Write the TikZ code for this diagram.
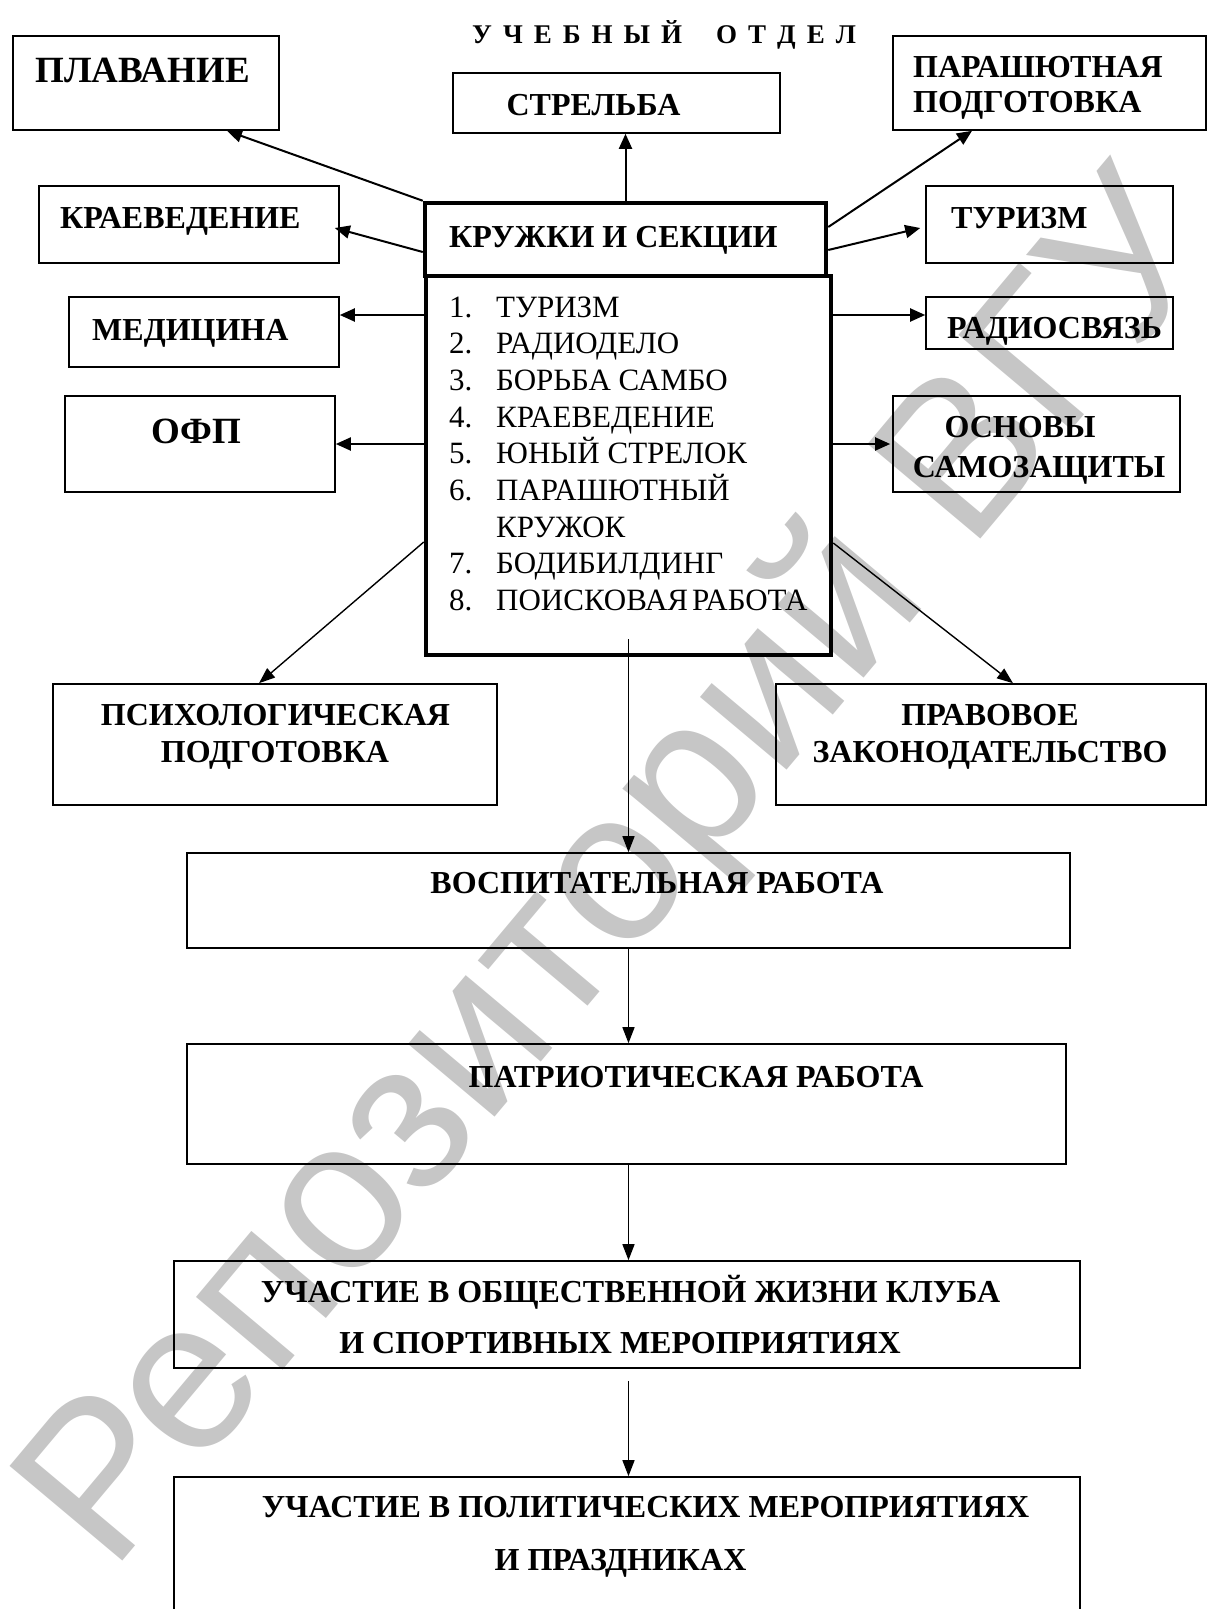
\documentclass[tikz,border=0pt]{standalone}
\usepackage{fontspec}
\setmainfont{Liberation Serif}
\newfontfamily\wmfont{Liberation Sans}
\usetikzlibrary{arrows.meta,fit}
\definecolor{wmgray}{RGB}{198,198,198}
\newcommand{\lsp}{\hspace{11pt}}
\begin{document}
\begin{tikzpicture}[x=1pt,y=-1pt,
  box/.style={draw, line width=1.6pt, inner sep=0pt},
  kbox/.style={draw, line width=4.5pt, inner sep=0pt},
  lbl/.style={inner sep=0pt, font=\fontsize{32}{38}\selectfont\bfseries},
  biglbl/.style={inner sep=0pt, font=\fontsize{37}{44}\selectfont\bfseries},
  item/.style={inner sep=0pt, anchor=base west, font=\fontsize{31}{37}\selectfont},
  arr/.style={line width=2pt, -{Triangle[length=15pt,width=13pt]}},
  arrthin/.style={line width=1.4pt, -{Triangle[length=16pt,width=12pt]}},
  wm/.style={inner sep=0pt, text=wmgray, font=\fontsize{214}{250}\selectfont\wmfont}
]
\useasboundingbox (0,0) rectangle (1208,1609);
\clip (0,0) rectangle (1208,1609);

% watermark
\node[wm, rotate=50, anchor=base west] (wmark) at (111,1575) {Репозиторий ВГУ};

% title
\node[inner sep=0pt, anchor=base west, font=\fontsize{27}{32}\selectfont\bfseries] (title) at (472,43)
  {У\lsp Ч\lsp Е\lsp Б\lsp Н\lsp Ы\lsp Й\hspace{34pt}О\lsp Т\lsp Д\lsp Е\lsp Л};

% boxes
\node[box, fit={(13,36) (279,130)}] (plav) {};
\node[box, fit={(453,73) (780,133)}] (str) {};
\node[box, fit={(893,36) (1206,130)}] (para) {};
\node[box, fit={(39,186) (339,263)}] (krai) {};
\node[box, fit={(69,297) (339,367)}] (med) {};
\node[box, fit={(65,396) (335,492)}] (ofp) {};
\node[box, fit={(926,186) (1173,263)}] (tur) {};
\node[box, fit={(926,297) (1173,349)}] (rad) {};
\node[box, fit={(893,396) (1180,492)}] (osn) {};
\node[box, fit={(53,684) (497,805)}] (psy) {};
\node[box, fit={(776,684) (1206,805)}] (prav) {};
\node[box, fit={(187,853) (1070,948)}] (vos) {};
\node[box, fit={(187,1044) (1066,1164)}] (pat) {};
\node[box, fit={(174,1261) (1080,1368)}] (uch1) {};
\node[box, fit={(174,1477) (1080,1640)}] (uch2) {};
\node[kbox, fit={(426,276) (831,655)}] (krl) {};
\node[kbox, fill=white, fit={(425,203) (826,276)}] (kr) {};

% labels
\node[biglbl, anchor=base] (plavT) at (142.5,82) {ПЛАВАНИЕ};
\node[lbl, anchor=base] (strT) at (593.5,115) {СТРЕЛЬБА};
\node[lbl, anchor=base west] (paraT1) at (913,77) {ПАРАШЮТНАЯ};
\node[lbl, anchor=base west] (paraT2) at (913,112) {ПОДГОТОВКА};
\node[lbl, anchor=base west] (krT) at (449,247) {КРУЖКИ И СЕКЦИИ};
\node[lbl, anchor=base west] (kraiT) at (60,228) {КРАЕВЕДЕНИЕ};
\node[lbl, anchor=base west] (medT) at (92,340) {МЕДИЦИНА};
\node[biglbl, anchor=base] (ofpT) at (196.5,443) {ОФП};
\node[lbl, anchor=base west] (turT) at (951,228) {ТУРИЗМ};
\node[lbl, anchor=base west] (radT) at (947,338) {РАДИОСВЯЗЬ};
\node[lbl, anchor=base] (osnT1) at (1020,437) {ОСНОВЫ};
\node[lbl, anchor=base] (osnT2) at (1039,477) {САМОЗАЩИТЫ};
\node[lbl, anchor=base] (psyT1) at (275.5,725) {ПСИХОЛОГИЧЕСКАЯ};
\node[lbl, anchor=base] (psyT2) at (275,762) {ПОДГОТОВКА};
\node[lbl, anchor=base] (pravT1) at (990,725) {ПРАВОВОЕ};
\node[lbl, anchor=base] (pravT2) at (990,762) {ЗАКОНОДАТЕЛЬСТВО};
\node[lbl, anchor=base] (vosT) at (657,893) {ВОСПИТАТЕЛЬНАЯ РАБОТА};
\node[lbl, anchor=base] (patT) at (696,1087) {ПАТРИОТИЧЕСКАЯ РАБОТА};
\node[lbl, anchor=base] (uch1T1) at (630.5,1302) {УЧАСТИЕ В ОБЩЕСТВЕННОЙ ЖИЗНИ КЛУБА};
\node[lbl, anchor=base] (uch1T2) at (620,1353) {И СПОРТИВНЫХ МЕРОПРИЯТИЯХ};
\node[lbl, anchor=base] (uch2T1) at (645.5,1517) {УЧАСТИЕ В ПОЛИТИЧЕСКИХ МЕРОПРИЯТИЯХ};
\node[lbl, anchor=base] (uch2T2) at (620.5,1570) {И ПРАЗДНИКАХ};

% list
\node[item] (n1) at (449,317) {1.};   \node[item] (i1) at (496,317) {ТУРИЗМ};
\node[item] (n2) at (449,353.7) {2.}; \node[item] (i2) at (496,353.7) {РАДИОДЕЛО};
\node[item] (n3) at (449,390.4) {3.}; \node[item] (i3) at (496,390.4) {БОРЬБА САМБО};
\node[item] (n4) at (449,427.1) {4.}; \node[item] (i4) at (496,427.1) {КРАЕВЕДЕНИЕ};
\node[item] (n5) at (449,463.8) {5.}; \node[item] (i5) at (496,463.8) {ЮНЫЙ СТРЕЛОК};
\node[item] (n6) at (449,500.5) {6.}; \node[item] (i6) at (496,500.5) {ПАРАШЮТНЫЙ};
\node[item] (i6b) at (496,537.2) {КРУЖОК};
\node[item] (n7) at (449,573.9) {7.}; \node[item] (i7) at (496,573.9) {БОДИБИЛДИНГ};
\node[item] (n8) at (449,610.6) {8.}; \node[item] (i8) at (496,610.6) {ПОИСКОВАЯ\hspace{4pt}РАБОТА};

% connection points
\coordinate (medIn) at ([yshift=17pt]med.east);
\coordinate (radIn) at ([yshift=8pt]rad.west);
\coordinate (psyOut) at ([yshift=-76.5pt]krl.west);
\coordinate (pravOut) at ([yshift=-77.5pt]krl.east);
\coordinate (cOut) at ([yshift=18pt]krl.south);
\coordinate (uOut) at ([yshift=-12pt]uch1.south -| vos.south);

% upper arrows
\draw[arr] (kr.north west) -- ([xshift=81pt]plav.south);
\draw[arr] (kr.north) -- (kr.north |- str.south);
\draw[arr] ([yshift=12.5pt]kr.east) -- ([xshift=-77.5pt]para.south);
\draw[arr] ([yshift=-10.5pt]kr.east) -- ([xshift=-5pt,yshift=-3.5pt]tur.west);
\draw[arr] ([yshift=-12.5pt]kr.west) -- ([xshift=-5pt,yshift=-3.5pt]krai.east);
\draw[arr] (krl.west |- medIn) -- (medIn);
\draw[arr] (krl.east |- radIn) -- (radIn);
\draw[arr] (krl.west |- ofp.east) -- (ofp.east);
\draw[arr] (krl.east |- osn.west) -- ([xshift=-2pt]osn.west);

% lower arrows
\draw[arrthin] (psyOut) -- ([xshift=-16pt]psy.north);
\draw[arrthin] (pravOut) -- ([xshift=22pt]prav.north);
\draw[arrthin] (cOut) -- (cOut |- vos.north);
\draw[arrthin] (vos.south) -- (vos.south |- pat.north);
\draw[arrthin] (pat.south -| vos.south) -- (uch1.north -| vos.south);
\draw[arrthin] (uOut) -- (uOut |- uch2.north);
\end{tikzpicture}
\end{document}
